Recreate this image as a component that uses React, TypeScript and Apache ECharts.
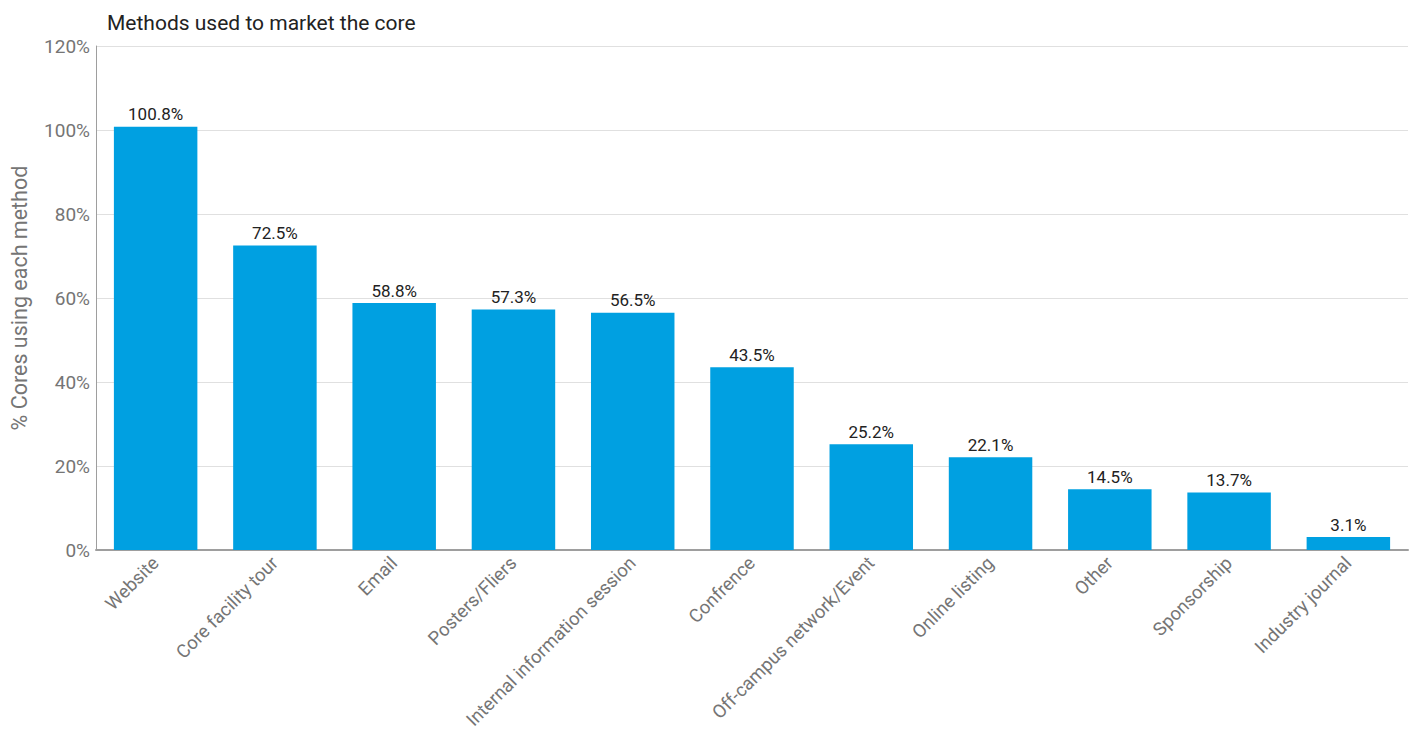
import React, { useEffect, useRef } from "react";
import * as echarts from "echarts";

const categories = [
  "Website",
  "Core facility tour",
  "Email",
  "Posters/Fliers",
  "Internal information session",
  "Confrence",
  "Off-campus network/Event",
  "Online listing",
  "Other",
  "Sponsorship",
  "Industry journal",
];
const values = [100.8, 72.5, 58.8, 57.3, 56.5, 43.5, 25.2, 22.1, 14.5, 13.7, 3.1];

export default function App() {
  const ref = useRef<HTMLDivElement>(null);
  useEffect(() => {
    const chart = echarts.init(ref.current!, null, { renderer: "svg" });
    chart.setOption({
      animation: false,
      textStyle: { fontFamily: "Roboto" },
      title: {
        text: "Methods used to market the core",
        left: 102,
        top: 7,
        textStyle: { fontFamily: "Roboto", fontSize: 21, fontWeight: "normal", color: "#222" },
      },
      grid: { left: 92, right: 5, top: 46, bottom: 181, containLabel: false },
      xAxis: {
        type: "category",
        data: categories,
        axisLine: { lineStyle: { color: "#9e9e9e", width: 2 } },
        axisTick: { show: false },
        axisLabel: {
          rotate: 45,
          color: "#757575",
          fontSize: 18.5,
          fontFamily: "Roboto",
          interval: 0,
          margin: 10,
        },
      },
      yAxis: {
        type: "value",
        min: 0,
        max: 120,
        interval: 20,
        name: "% Cores using each method",
        nameLocation: "middle",
        nameGap: 66,
        nameTextStyle: { color: "#757575", fontSize: 21.5, fontFamily: "Roboto" },
        axisLine: { show: true, lineStyle: { color: "#9e9e9e", width: 1 } },
        axisTick: { show: false },
        axisLabel: {
          formatter: "{value}%",
          color: "#757575",
          fontSize: 19,
          fontFamily: "Roboto",
          margin: 6,
        },
        splitLine: { lineStyle: { color: "#e0e0e0" } },
      },
      series: [
        {
          type: "bar",
          data: values,
          barWidth: "70%",
          itemStyle: { color: "#00A0E1" },
          label: {
            show: true,
            position: "top",
            formatter: (p: any) => p.value.toFixed(1) + "%",
            color: "#222",
            fontSize: 17,
            fontFamily: "Roboto",
            distance: 4,
          },
        },
      ],
    });
    return () => chart.dispose();
  }, []);
  return (
    <div
      ref={ref}
      style={{ position: "absolute", left: 0, top: 0, width: 1413, height: 732 }}
    />
  );
}
